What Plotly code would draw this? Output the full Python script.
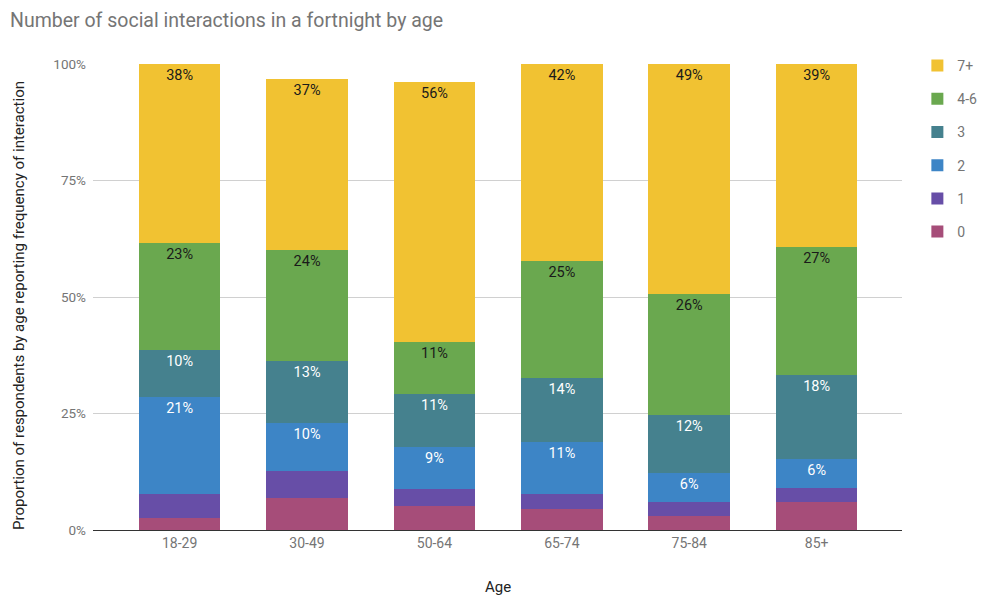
import plotly.graph_objects as go

ages = ["18-29", "30-49", "50-64", "65-74", "75-84", "85+"]
series_names = ["0", "1", "2", "3", "4-6", "7+"]
v0 = [2.6, 6.9, 5.2, 4.6, 3.0, 6.1]
v1 = [5.2, 5.8, 3.6, 3.1, 3.1, 2.9]
v2 = [20.7, 10.3, 9.0, 11.2, 6.1, 6.2]
v3 = [10.1, 13.3, 11.4, 13.7, 12.4, 18.1]
v46 = [23.0, 23.8, 11.1, 25.1, 26.0, 27.4]
v7 = [38.4, 36.6, 55.8, 42.3, 49.4, 39.3]
values = [v0, v1, v2, v3, v46, v7]
colors = ["#a64d79", "#674ea7", "#3d85c6", "#45818e", "#6aa84f", "#f1c232"]
label_colors = [None, None, "#ffffff", "#ffffff", "#1a1a1a", "#1a1a1a"]
y_ticks = [0, 25, 50, 75, 100]
y_ticktext = ["0%", "25%", "50%", "75%", "100%"]

# page body has an 8px margin, so the figure is drawn 8px right/down
W, H = 980, 587
L, T = 85, 56
PW = 809   # plot width
PH = 466   # plot height

fig = go.Figure()
n = len(series_names)
for i, (name, vals, col, lc) in enumerate(zip(series_names, values, colors, label_colors)):
    show = lc is not None
    fig.add_trace(go.Bar(
        x=ages, y=vals, name=name, legendgroup=name, legendrank=n - i,
        marker=dict(color=col, line=dict(width=0)),
        texttemplate="%{y:.0f}%" if show else None,
        textposition="inside" if show else "none",
        insidetextanchor="end",
        textangle=0,
        constraintext="none",
        textfont=dict(family="Roboto", size=14.5, color=lc if show else "#000"),
        hoverinfo="x+y+name",
    ))

fig.update_layout(
    barmode="stack",
    bargap=0.36,
    width=W, height=H,
    paper_bgcolor="white", plot_bgcolor="white",
    margin=dict(l=L, r=W - L - PW, t=T, b=H - T - PH, autoexpand=False),
    font=dict(family="Roboto", color="#757575", size=14),
    title=dict(text="Number of social interactions in a fortnight by age",
               x=0, xref="container", xanchor="left", pad=dict(l=2),
               y=1 - 12 / H, yref="container", yanchor="middle",
               font=dict(family="Roboto", size=19.5, color="#757575")),
    xaxis=dict(range=[-0.68, 5.67], showgrid=False, showline=True,
               linecolor="#333333", linewidth=1, ticks="", automargin=False,
               tickfont=dict(size=14, color="#757575")),
    yaxis=dict(range=[0, 100], tickvals=y_ticks, ticktext=y_ticktext,
               showgrid=True, gridcolor="#d0d0d0", zeroline=False, automargin=False,
               ticklabelstandoff=6,
               tickfont=dict(size=13.5, color="#757575"), ticks=""),
    legend=dict(x=1.019, xanchor="left", y=1.03, yanchor="top",
                traceorder="grouped", tracegroupgap=12,
                font=dict(size=14, color="#757575"),
                bgcolor="rgba(0,0,0,0)"),
    showlegend=True,
    annotations=[
        dict(text="Age", xref="paper", yref="paper", x=0.5, y=-57 / PH,
             xanchor="center", yanchor="middle", showarrow=False,
             font=dict(size=15, color="#222222")),
        dict(text="Proportion of respondents by age reporting frequency of interaction",
             xref="paper", yref="paper", x=-74 / PW, y=224 / PH,
             xanchor="center", yanchor="middle", textangle=-90, showarrow=False,
             font=dict(size=15, color="#222222")),
    ],
)

fig.write_html("out.html")
